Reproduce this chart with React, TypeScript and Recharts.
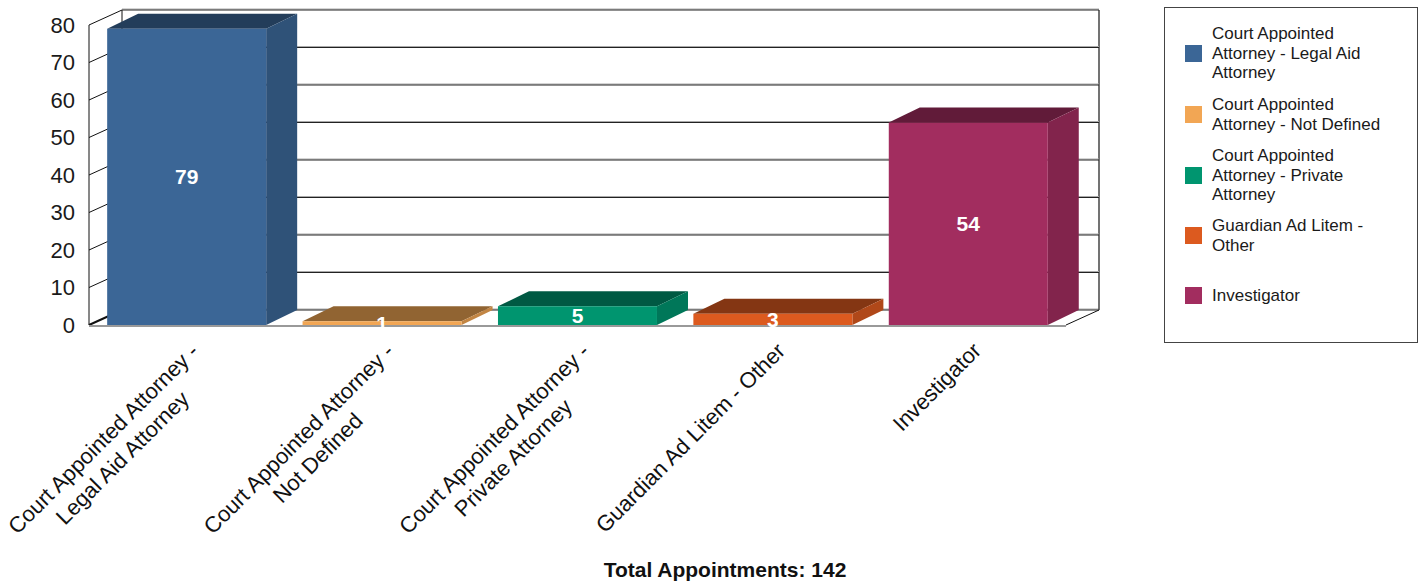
import React from "react";
import {
  BarChart,
  Bar,
  XAxis,
  YAxis,
  CartesianGrid,
  Cell,
  LabelList,
  Legend,
} from "recharts";

const CATEGORIES = [
  "Court Appointed Attorney - Legal Aid Attorney",
  "Court Appointed Attorney - Not Defined",
  "Court Appointed Attorney - Private Attorney",
  "Guardian Ad Litem - Other",
  "Investigator",
];
const APPOINTMENTS = [79, 1, 5, 3, 54];
const BAR_COLORS = ["#3B6696", "#F2A654", "#00956F", "#DC5A1F", "#A22D5F"];
const Y_TICKS = [0, 10, 20, 30, 40, 50, 60, 70, 80];

const chartData = CATEGORIES.map((name, i) => ({ name, value: APPOINTMENTS[i] }));
const total = APPOINTMENTS.reduce((s, v) => s + v, 0);

const FONT = "'Liberation Sans', Arial, sans-serif";
// depth of the fake 3d: walls and boxes
const WALL_DX = 33;
const WALL_DY = -15;
const BOX_DX = 31;
const BOX_DY = -15;
const PLOT_TOP = 25;
const PLOT_BOTTOM = 325;

// legend row positions (box-relative), one per item
const LEGEND_ROW_TOPS = [16, 87, 138, 208, 278];

function shade(hex: string, f: number) {
  const n = parseInt(hex.slice(1), 16);
  const r = Math.round(((n >> 16) & 255) * f);
  const g = Math.round(((n >> 8) & 255) * f);
  const b = Math.round((n & 255) * f);
  return `rgb(${r},${g},${b})`;
}

let ctx: CanvasRenderingContext2D | null = null;
function measure(text: string, font: string) {
  if (!ctx) ctx = document.createElement("canvas").getContext("2d");
  if (!ctx) return text.length * 11;
  ctx.font = font;
  return ctx.measureText(text).width;
}

function wrapWords(text: string, font: string, maxWidth: number) {
  const words = text.split(" ");
  const lines: string[] = [];
  let cur = "";
  for (const w of words) {
    const next = cur ? `${cur} ${w}` : w;
    if (cur && measure(next, font) > maxWidth) {
      lines.push(cur);
      cur = w;
    } else {
      cur = next;
    }
  }
  if (cur) lines.push(cur);
  return lines;
}

// eslint-disable-next-line @typescript-eslint/no-explicit-any
function CategoryTick({ x, y, payload }: any) {
  const font = `22px ${FONT}`;
  const lines = wrapWords(String(payload.value), font, 270);
  const maxW = Math.max(...lines.map((l) => measure(l, font)));
  return (
    <g transform={`translate(${x + 14},${y + 27}) rotate(-45)`}>
      {lines.map((line, i) => (
        <text key={i} x={-maxW / 2} y={i * 27} textAnchor="middle" fontSize={22} fill="#111">
          {line}
        </text>
      ))}
    </g>
  );
}

// eslint-disable-next-line @typescript-eslint/no-explicit-any
function Box3D(props: any) {
  const { x, y, width: w, height: h, index } = props;
  const c = BAR_COLORS[index % BAR_COLORS.length];
  const top = `${x},${y} ${x + BOX_DX},${y + BOX_DY} ${x + w + BOX_DX},${y + BOX_DY} ${x + w},${y}`;
  const side = `${x + w},${y} ${x + w + BOX_DX},${y + BOX_DY} ${x + w + BOX_DX},${y + h + BOX_DY} ${x + w},${y + h}`;
  return (
    <g>
      <polygon points={top} fill={shade(c, 0.6)} />
      <polygon points={side} fill={shade(c, 0.8)} />
      <rect x={x} y={y} width={w} height={h} fill={c} />
    </g>
  );
}

// back wall line + left wall diagonal for every y tick; floor & wall edges on the 0 line
// eslint-disable-next-line @typescript-eslint/no-explicit-any
function WallLine(props: any) {
  const { x1, x2, y1, index } = props;
  const isFloor = Math.abs(y1 - PLOT_BOTTOM) < 1;
  return (
    <g key={`wall-${index}`}>
      <line x1={x1 + WALL_DX} x2={x2 + WALL_DX} y1={y1 + WALL_DY - 1} y2={y1 + WALL_DY - 1} stroke="#aaa" />
      <line x1={x1 + WALL_DX} x2={x2 + WALL_DX} y1={y1 + WALL_DY} y2={y1 + WALL_DY} stroke="#222" />
      <line x1={x1} y1={y1} x2={x1 + WALL_DX} y2={y1 + WALL_DY} stroke="#111" strokeWidth={isFloor ? 2 : 1} />
      {isFloor && (
        <>
          <line x1={x1} x2={x2} y1={y1 + 1} y2={y1 + 1} stroke="#999" strokeWidth={2} />
          <line x1={x2} y1={y1} x2={x2 + WALL_DX} y2={y1 + WALL_DY} stroke="#111" />
          <line x1={x1 + WALL_DX} x2={x1 + WALL_DX} y1={PLOT_TOP + WALL_DY} y2={PLOT_BOTTOM + WALL_DY} stroke="#111" />
          <line x1={x2 + WALL_DX} x2={x2 + WALL_DX} y1={PLOT_TOP + WALL_DY} y2={PLOT_BOTTOM + WALL_DY} stroke="#444" strokeWidth={1.5} />
        </>
      )}
    </g>
  );
}

function LegendBox() {
  return (
    <div
      style={{
        position: "relative",
        width: 252,
        height: 334,
        border: "1px solid #444",
        background: "#fff",
        fontFamily: FONT,
        fontSize: 17,
        lineHeight: "19.5px",
        color: "#1a1a1a",
      }}
    >
      {CATEGORIES.map((name, i) => (
        <div
          key={name}
          style={{
            position: "absolute",
            left: 20,
            top: LEGEND_ROW_TOPS[i],
            display: "flex",
            alignItems: "center",
          }}
        >
          <span
            style={{ display: "inline-block", width: 17, height: 17, background: BAR_COLORS[i], flex: "none" }}
          />
          <span style={{ marginLeft: 10, width: 178 }}>{name}</span>
        </div>
      ))}
    </div>
  );
}

export default function App() {
  return (
    <div
      style={{
        position: "absolute",
        left: 0,
        top: 0,
        width: 1420,
        height: 584,
        overflow: "hidden",
        background: "#fff",
        fontFamily: FONT,
      }}
    >
      <BarChart
        width={1420}
        height={584}
        data={chartData}
        margin={{ top: 25, right: 354, bottom: 29, left: 29 }}
        barCategoryGap="9.3%"
      >
        <CartesianGrid vertical={false} horizontal={WallLine} />
        <XAxis
          dataKey="name"
          height={230}
          interval={0}
          axisLine={false}
          tickLine={false}
          tickSize={0}
          tickMargin={0}
          tick={<CategoryTick />}
        />
        <YAxis
          width={60}
          domain={[0, 80]}
          ticks={Y_TICKS}
          interval={0}
          axisLine={{ stroke: "#111" }}
          tickLine={false}
          tickSize={0}
          tickMargin={14}
          tick={{ fill: "#1a1a1a", fontSize: 22 }}
        />
        <Legend
          layout="vertical"
          align="center"
          verticalAlign="middle"
          content={<LegendBox />}
          wrapperStyle={{ left: 1164, top: 7, width: 254, height: 336 }}
        />
        <Bar dataKey="value" shape={<Box3D />} isAnimationActive={false}>
          {chartData.map((d, i) => (
            <Cell key={d.name} fill={BAR_COLORS[i]} />
          ))}
          <LabelList dataKey="value" position="center" fill="#fff" fontSize={21} fontWeight="bold" />
        </Bar>
      </BarChart>
      <div
        style={{
          position: "absolute",
          left: 36,
          top: 560,
          width: 1378,
          textAlign: "center",
          fontSize: 21,
          lineHeight: "20px",
          fontWeight: "bold",
          color: "#111",
        }}
      >
        Total Appointments: {total}
      </div>
    </div>
  );
}
